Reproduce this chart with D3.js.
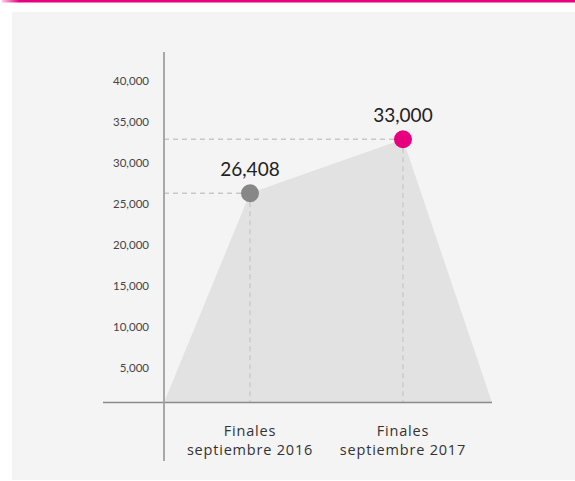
<!DOCTYPE html>
<html>
<head>
<meta charset="utf-8">
<script src="https://cdn.jsdelivr.net/npm/d3@7"></script>
<style>
  html, body { margin: 0; padding: 0; background: #ffffff; }
  svg { display: block; font-family: Lato, "Open Sans", sans-serif; }
</style>
</head>
<body>
<svg id="chart" width="575" height="481"></svg>
<script>
// Categories and their values
const categories = [["Finales", "septiembre 2016"], ["Finales", "septiembre 2017"]];
const values = [26408, 33000];
const valueLabels = ["26,408", "33,000"];
const yTicks = [5000, 10000, 15000, 20000, 25000, 30000, 35000, 40000];
const pointColors = ["#878787", "#e6007e"];

const svg = d3.select("#chart");

// header accent bar
const defs = svg.append("defs");
const grad = defs.append("linearGradient").attr("id", "accent").attr("x1", 0).attr("x2", 1);
grad.append("stop").attr("offset", 0).attr("stop-color", "#e6007e").attr("stop-opacity", 0.2);
grad.append("stop").attr("offset", 0.03).attr("stop-color", "#e6007e").attr("stop-opacity", 1);
grad.append("stop").attr("offset", 1).attr("stop-color", "#e6007e");
svg.append("rect").attr("x", 2).attr("y", 0).attr("width", 573).attr("height", 2.5).attr("fill", "url(#accent)");

// panel
svg.append("rect").attr("x", 12).attr("y", 12).attr("width", 563).attr("height", 468).attr("fill", "#f4f4f4");

// scales: x by category index, with the area extended past both categories
const x = d3.scaleLinear().domain([-0.562, 1.582]).range([164, 492]);
const y = d3.scaleLinear().domain([0, 40000]).range([409.6, 81.9]);
const baseY = 402.5;

// area shape
const pts = [[x.domain()[0], null]].concat(values.map((v, i) => [i, v])).concat([[x.domain()[1], null]]);
const area = d3.line()
  .x(d => x(d[0]))
  .y(d => d[1] == null ? baseY : y(d[1]));
svg.append("path")
  .attr("d", area(pts) + "Z")
  .attr("fill", "#e2e2e2");

// guide lines from axis to each point, and from each point down to the baseline
values.forEach((v, i) => {
  svg.append("line")
    .attr("x1", 164).attr("x2", x(i))
    .attr("y1", y(v)).attr("y2", y(v))
    .attr("stroke", "#c8c8c8").attr("stroke-width", 1.3).attr("stroke-dasharray", "5,4");
  svg.append("line")
    .attr("x1", x(i)).attr("x2", x(i))
    .attr("y1", y(v)).attr("y2", baseY)
    .attr("stroke", "#c8c8c8").attr("stroke-width", 1.3).attr("stroke-dasharray", "5,4");
});

// axes lines
svg.append("line").attr("x1", 103).attr("x2", 492).attr("y1", baseY).attr("y2", baseY)
  .attr("stroke", "#8a8a8a").attr("stroke-width", 1.5);
svg.append("line").attr("x1", 164).attr("x2", 164).attr("y1", 52).attr("y2", 461)
  .attr("stroke", "#a0a0a0").attr("stroke-width", 1.8);

// y tick labels
const yAxis = d3.axisLeft(y).tickValues(yTicks).tickSize(0).tickPadding(0)
  .tickFormat(d3.format(","));
const gy = svg.append("g").attr("transform", "translate(149,0)").call(yAxis);
gy.select(".domain").remove();
gy.selectAll("text")
  .attr("font-family", "Lato, sans-serif")
  .attr("font-size", 11.5).attr("fill", "#444").attr("dy", "0.25em");

// points
svg.selectAll("circle.pt").data(values).join("circle")
  .attr("class", "pt")
  .attr("cx", (d, i) => x(i)).attr("cy", d => y(d))
  .attr("r", 9)
  .attr("fill", (d, i) => pointColors[i]);

// value labels
svg.selectAll("text.val").data(values).join("text")
  .attr("class", "val")
  .attr("x", (d, i) => x(i)).attr("y", d => y(d) - 17)
  .attr("text-anchor", "middle")
  .attr("font-size", 19).attr("fill", "#222")
  .text((d, i) => valueLabels[i]);

// category labels
categories.forEach((lines, i) => {
  const t = svg.append("text")
    .attr("x", x(i)).attr("y", 436)
    .attr("text-anchor", "middle")
    .attr("font-family", "'Open Sans', sans-serif")
    .attr("font-size", 14.5).attr("letter-spacing", 0.8).attr("fill", "#333");
  lines.forEach((s, j) => {
    t.append("tspan").attr("x", x(i)).attr("dy", j === 0 ? 0 : 19).text(s);
  });
});
</script>
</body>
</html>
